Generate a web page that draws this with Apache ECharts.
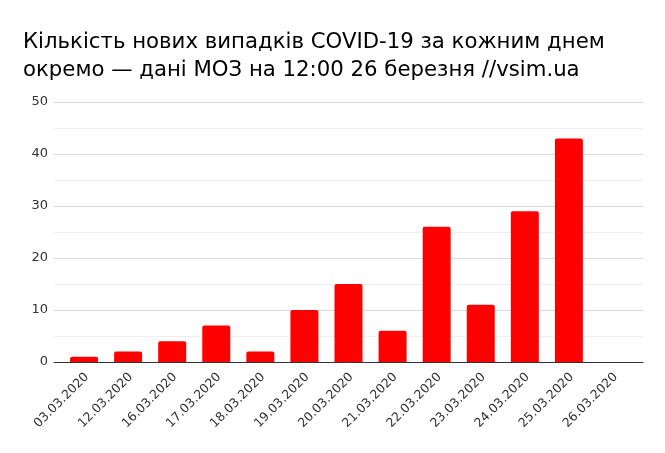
<!DOCTYPE html>
<html>
<head>
<meta charset="utf-8">
<script src="https://cdn.jsdelivr.net/npm/echarts@6/dist/echarts.min.js"></script>
<style>html,body{margin:0;padding:0;background:#fff}#c{width:665px;height:453px}</style>
</head>
<body>
<div id="c"></div>
<script>
const titleLines = ["Кількість нових випадків COVID-19 за кожним днем", "окремо — дані МОЗ на 12:00 26 березня //vsim.ua"];
const categories = ["03.03.2020","12.03.2020","16.03.2020","17.03.2020","18.03.2020","19.03.2020","20.03.2020","21.03.2020","22.03.2020","23.03.2020","24.03.2020","25.03.2020","26.03.2020"];
const newCases = [1, 2, 4, 7, 2, 10, 15, 6, 26, 11, 29, 43, 0];
const yTicks = {min: 0, max: 50, interval: 10};

const chart = echarts.init(document.getElementById('c'));
chart.setOption({
  animation: false,
  title: {
    text: titleLines.join('\n'),
    left: 18, top: 23,
    textStyle: {fontFamily: 'DejaVu Sans', fontSize: 21.25, fontWeight: 'normal', color: '#000', lineHeight: 28}
  },
  grid: [
    {left: 54, right: 22, top: 102, bottom: 91},
    {left: 62, right: 30, top: 102, bottom: 91}
  ],
  xAxis: [
    {
      gridIndex: 0, type: 'value', min: 0, max: 1,
      axisLine: {show: true, onZero: false, lineStyle: {color: '#333'}},
      axisTick: {show: false}, axisLabel: {show: false}, splitLine: {show: false}
    },
    {
      gridIndex: 1, type: 'category', data: categories,
      axisLine: {show: false},
      axisTick: {show: false},
      axisLabel: {rotate: 45, fontFamily: 'DejaVu Sans', fontSize: 12.5, color: '#333', margin: 16, interval: 0, padding: [0, -4, 0, 0]}
    }
  ],
  yAxis: [
    {
      gridIndex: 0, type: 'value', min: yTicks.min, max: yTicks.max, interval: yTicks.interval,
      axisLine: {show: false}, axisTick: {show: false},
      axisLabel: {fontFamily: 'DejaVu Sans', fontSize: 13, color: '#333', margin: 6},
      splitLine: {lineStyle: {color: '#d9d9d9', width: 1}},
      minorTick: {show: false, splitNumber: 2},
      minorSplitLine: {show: true, lineStyle: {color: '#eeeeee', width: 1}}
    },
    {
      gridIndex: 1, type: 'value', min: yTicks.min, max: yTicks.max, interval: yTicks.interval,
      show: false, splitLine: {show: false}
    }
  ],
  series: [{
    type: 'bar', xAxisIndex: 1, yAxisIndex: 1, data: newCases, barWidth: 28,
    itemStyle: {color: '#ff0000', borderRadius: [2, 2, 0, 0]}
  }]
});
</script>
</body>
</html>
